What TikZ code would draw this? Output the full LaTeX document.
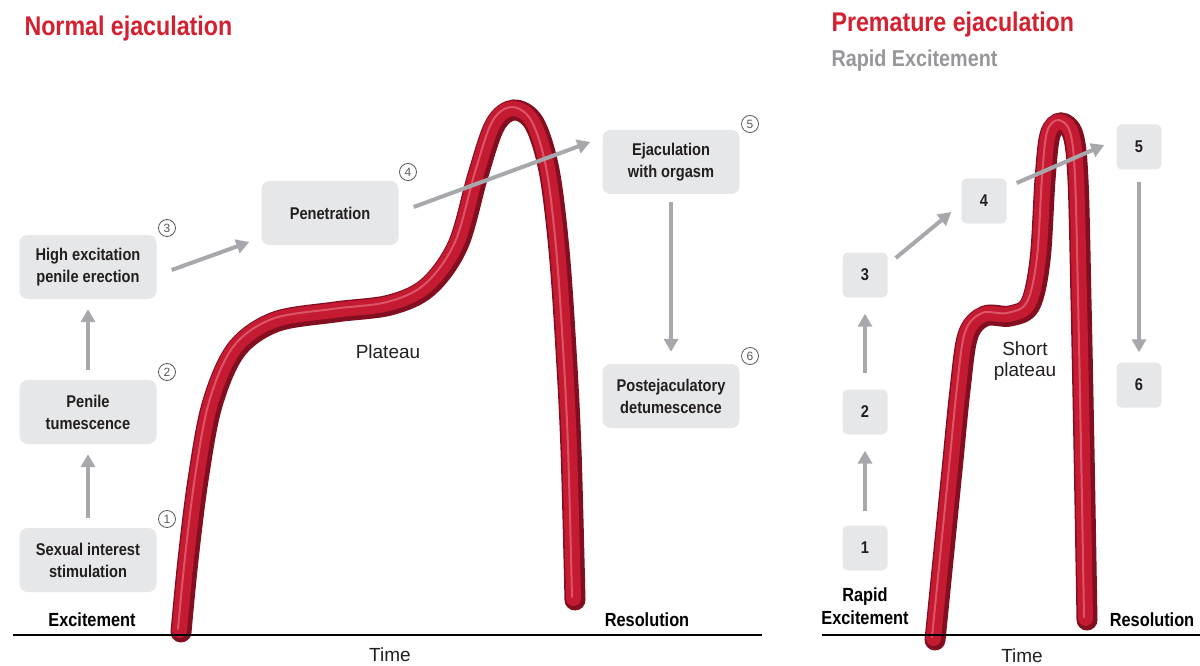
\documentclass[tikz,border=0pt]{standalone}
\usepackage{fontspec}
\setmainfont{Liberation Sans}
\newfontfamily\cond[FakeStretch=0.86]{Liberation Sans}
\usetikzlibrary{arrows.meta}
\definecolor{boxgray}{RGB}{230,231,232}
\definecolor{arrgray}{RGB}{166,168,171}
\definecolor{titlered}{RGB}{213,32,48}
\definecolor{txt}{RGB}{35,31,32}
\definecolor{tubedark}{RGB}{130,14,32}
\definecolor{tubemain}{RGB}{196,26,50}
\definecolor{tubelight}{RGB}{232,110,125}
\definecolor{numgray}{RGB}{90,90,90}
\tikzset{
  stepbox/.style={fill=boxgray, rounded corners=8pt, minimum width=137pt, minimum height=64pt,
    align=center, font=\cond\bfseries\fontsize{17}{22}\selectfont, text=txt, inner sep=2pt},
  smallbox/.style={fill=boxgray, rounded corners=5pt, minimum size=45pt,
    font=\cond\bfseries\fontsize{17}{20}\selectfont, text=txt, inner sep=0pt},
  num/.style={circle, draw=numgray, line width=0.8pt, minimum size=17pt, inner sep=0pt,
    font=\fontsize{12}{12}\selectfont, text=numgray},
  arr/.style={draw=arrgray, line width=4pt, -{Triangle[length=13pt,width=14pt]}, arrgray},
  axislabel/.style={font=\cond\bfseries\fontsize{19}{23}\selectfont, text=black},
  plain/.style={font=\fontsize{19}{22}\selectfont, text=txt, align=center},
  title/.style={font=\cond\bfseries\fontsize{27}{30}\selectfont, text=titlered, anchor=west},
}
\begin{document}
\begin{tikzpicture}[x=1pt,y=-1pt]
\useasboundingbox (0,0) rectangle (1200,666);
\fill[white] (0,0) rectangle (1200,666);

% ---------- tubes ----------
\def\tubeL{(181,632) (188,560) (198,480) (212,405) (236,350) (275,322) (335,312) (390,305) (428,287) (458,245) (478,175) (495,125) (514,110) (534,123) (549,170) (559,250) (566,350) (571,450) (575,600)}
\def\tubeR{(935,640) (943,560) (952,470) (960,390) (968,335) (985,316) (1010,316) (1030,305) (1040,260) (1045,180) (1050,135) (1061,123) (1073,135) (1078,180) (1081,300) (1084,450) (1087,620)}
\foreach \pts in {\tubeL,\tubeR}{
  \draw[tubedark, line width=21pt, line cap=round] plot[smooth, tension=0.55] coordinates {\pts};
  \begin{scope}[shift={(-1.5,-1.5)}]
  \draw[tubemain, line width=15pt, line cap=round] plot[smooth, tension=0.55] coordinates {\pts};
  \end{scope}
  \begin{scope}[shift={(-3,-3)}]
  \draw[tubelight, line width=2pt, line cap=round, opacity=0.7] plot[smooth, tension=0.55] coordinates {\pts};
  \end{scope}
}

% ---------- axes ----------
\coordinate (axL1) at (13,635);
\coordinate (axL2) at (762,635);
\coordinate (axR1) at (822,635);
\coordinate (axR2) at (1200,635);
\draw[black, line width=2pt] (axL1) -- (axL2);
\draw[black, line width=2pt] (axR1) -- (axR2);

% ---------- titles ----------
\node[title] (t1) at (21,29) {Normal ejaculation};
\node[title] (t2) at (828,25) {Premature ejaculation};
\node[font=\cond\bfseries\fontsize{23}{26}\selectfont, text=arrgray!90!black, anchor=west] (t3) at (828,61) {Rapid Excitement};

% ---------- left panel ----------
\node[stepbox] (b1) at (88,560) {Sexual interest\\stimulation};
\node[stepbox] (b2) at (88,412) {Penile\\tumescence};
\node[stepbox] (b3) at (88,267) {High excitation\\penile erection};
\node[stepbox] (b4) at (330,213) {Penetration};
\node[stepbox] (b5) at (671,162) {Ejaculation\\with orgasm};
\node[stepbox] (b6) at (671,396) {Postejaculatory\\detumescence};

\node[num] (n1) at (167,519) {1};
\node[num] (n2) at (167,372) {2};
\node[num] (n3) at (167,228) {3};
\node[num] (n4) at (408,172) {4};
\node[num] (n5) at (750,124) {5};
\node[num] (n6) at (750,356) {6};

\draw[arr, shorten <=10pt, shorten >=10pt] (b1) -- (b2);
\draw[arr, shorten <=10pt, shorten >=10pt] (b2) -- (b3);
\draw[arr] ([xshift=15pt,yshift=-3pt]b3.east) -- ([xshift=-12pt,yshift=-29pt]b4.west);
\draw[arr] ([xshift=15pt,yshift=6pt]b4.east) -- ([xshift=-12pt,yshift=20pt]b5.west);
\draw[arr, shorten <=8pt, shorten >=12pt] (b5) -- (b6);

\node[axislabel] (ex) at (92,620) {Excitement};
\node[axislabel] (re) at (647,620) {Resolution};
\node[plain] (tm) at (390,655) {Time};
\node[plain] (pl) at (388,352) {Plateau};

% ---------- right panel ----------
\node[smallbox] (r1) at (865,548) {1};
\node[smallbox] (r2) at (865,412) {2};
\node[smallbox] (r3) at (865,275) {3};
\node[smallbox] (r4) at (984,201) {4};
\node[smallbox] (r5) at (1139,147) {5};
\node[smallbox] (r6) at (1139,385) {6};

\draw[arr, shorten <=14pt, shorten >=16pt] (r1) -- (r2);
\draw[arr, shorten <=16pt, shorten >=16pt] (r2) -- (r3);
\draw[arr] ([xshift=8pt,yshift=17pt]r3.east) -- ([xshift=-10pt,yshift=-11pt]r4.west);
\draw[arr] ([xshift=10pt,yshift=18pt]r4.east) -- ([xshift=-12pt,yshift=2pt]r5.west);
\draw[arr, shorten <=12pt, shorten >=10pt] (r5) -- (r6);

\node[axislabel, align=center] (rex) at (865,606) {Rapid\\Excitement};
\node[axislabel] (rre) at (1152,620) {Resolution};
\node[plain] (rtm) at (1022,656) {Time};
\node[plain, font=\fontsize{19}{21}\selectfont] (sp) at (1025,361) {Short\\plateau};
\end{tikzpicture}
\end{document}
